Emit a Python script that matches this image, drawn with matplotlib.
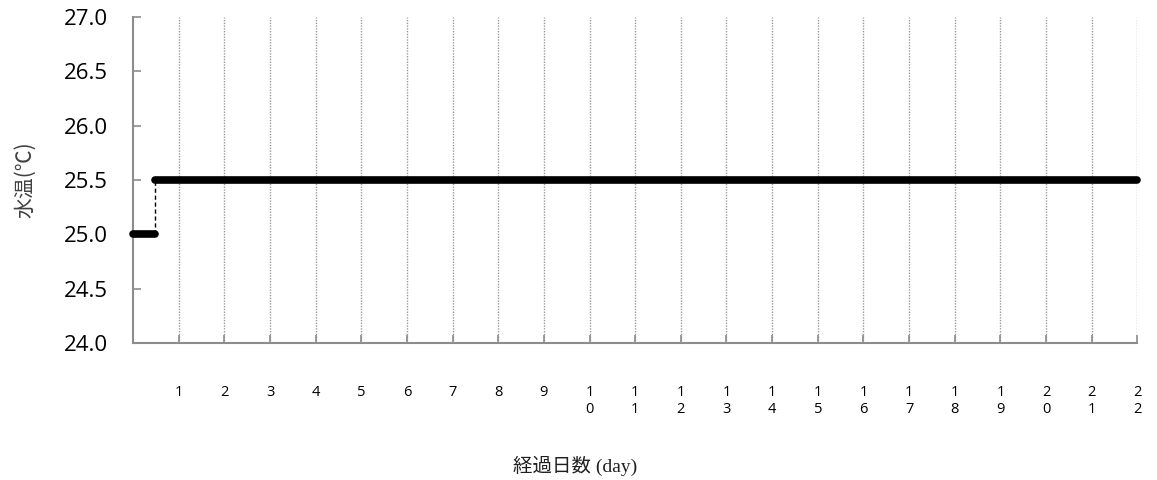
import matplotlib
matplotlib.use("Agg")
import matplotlib.pyplot as plt

# Data
days = list(range(1, 23))
day_labels = ["\n".join(str(d)) for d in days]
seg1_x = [0.0, 0.48]
seg1_y = [25.0, 25.0]
seg2_x = [0.48, 22.0]
seg2_y = [25.5, 25.5]
yticks = [24.0, 24.5, 25.0, 25.5, 26.0, 26.5, 27.0]

fig = plt.figure(figsize=(11.57, 4.8), dpi=100)
ax = fig.add_axes([0.115, 0.2854, 0.868, 0.6792])

ax.set_xlim(0, 22)
ax.set_ylim(24.0, 27.0)

for d in days:
    ax.axvline(d, color="#9a9a9a", lw=1.0, ls=(0, (1, 1)), zorder=1)

# connector
ax.plot([seg1_x[1], seg2_x[0]], [seg1_y[1], seg2_y[0]], color="black", lw=1.0,
        ls=(0, (3, 2)), zorder=2)
ax.plot(seg1_x, seg1_y, color="black", lw=5.5, solid_capstyle="round", zorder=3, clip_on=False)
ax.plot(seg2_x, seg2_y, color="black", lw=5.5, solid_capstyle="round", zorder=3, clip_on=False)

ax.set_yticks(yticks)
ax.set_yticklabels([f"{v:.1f}" for v in yticks], fontsize=16, family=["Open Sans", "DejaVu Sans"])
ax.set_xticks(days)
ax.set_xticklabels(day_labels, fontsize=10.5, family=["Open Sans", "DejaVu Sans"],
                   linespacing=1.25)

for s in ["top", "right"]:
    ax.spines[s].set_visible(False)
for s in ["left", "bottom"]:
    ax.spines[s].set_color("#8c8c8c")
    ax.spines[s].set_linewidth(1.5)

ax.tick_params(axis="y", direction="in", length=6, width=1.2, color="#8c8c8c", pad=18)
ax.tick_params(axis="x", direction="in", length=6, width=1.2, color="#8c8c8c", pad=30)

ax.set_ylabel("水温(℃)", fontsize=15, family=["Noto Sans CJK JP", "DejaVu Sans"],
              color="#404040", labelpad=20)
fig.text(0.497, 0.03, "経過日数 (day)", fontsize=14, ha="center", va="center",
         family=["Liberation Serif", "Noto Sans CJK JP"], color="#202020")

fig.savefig("out.png", dpi=100)
